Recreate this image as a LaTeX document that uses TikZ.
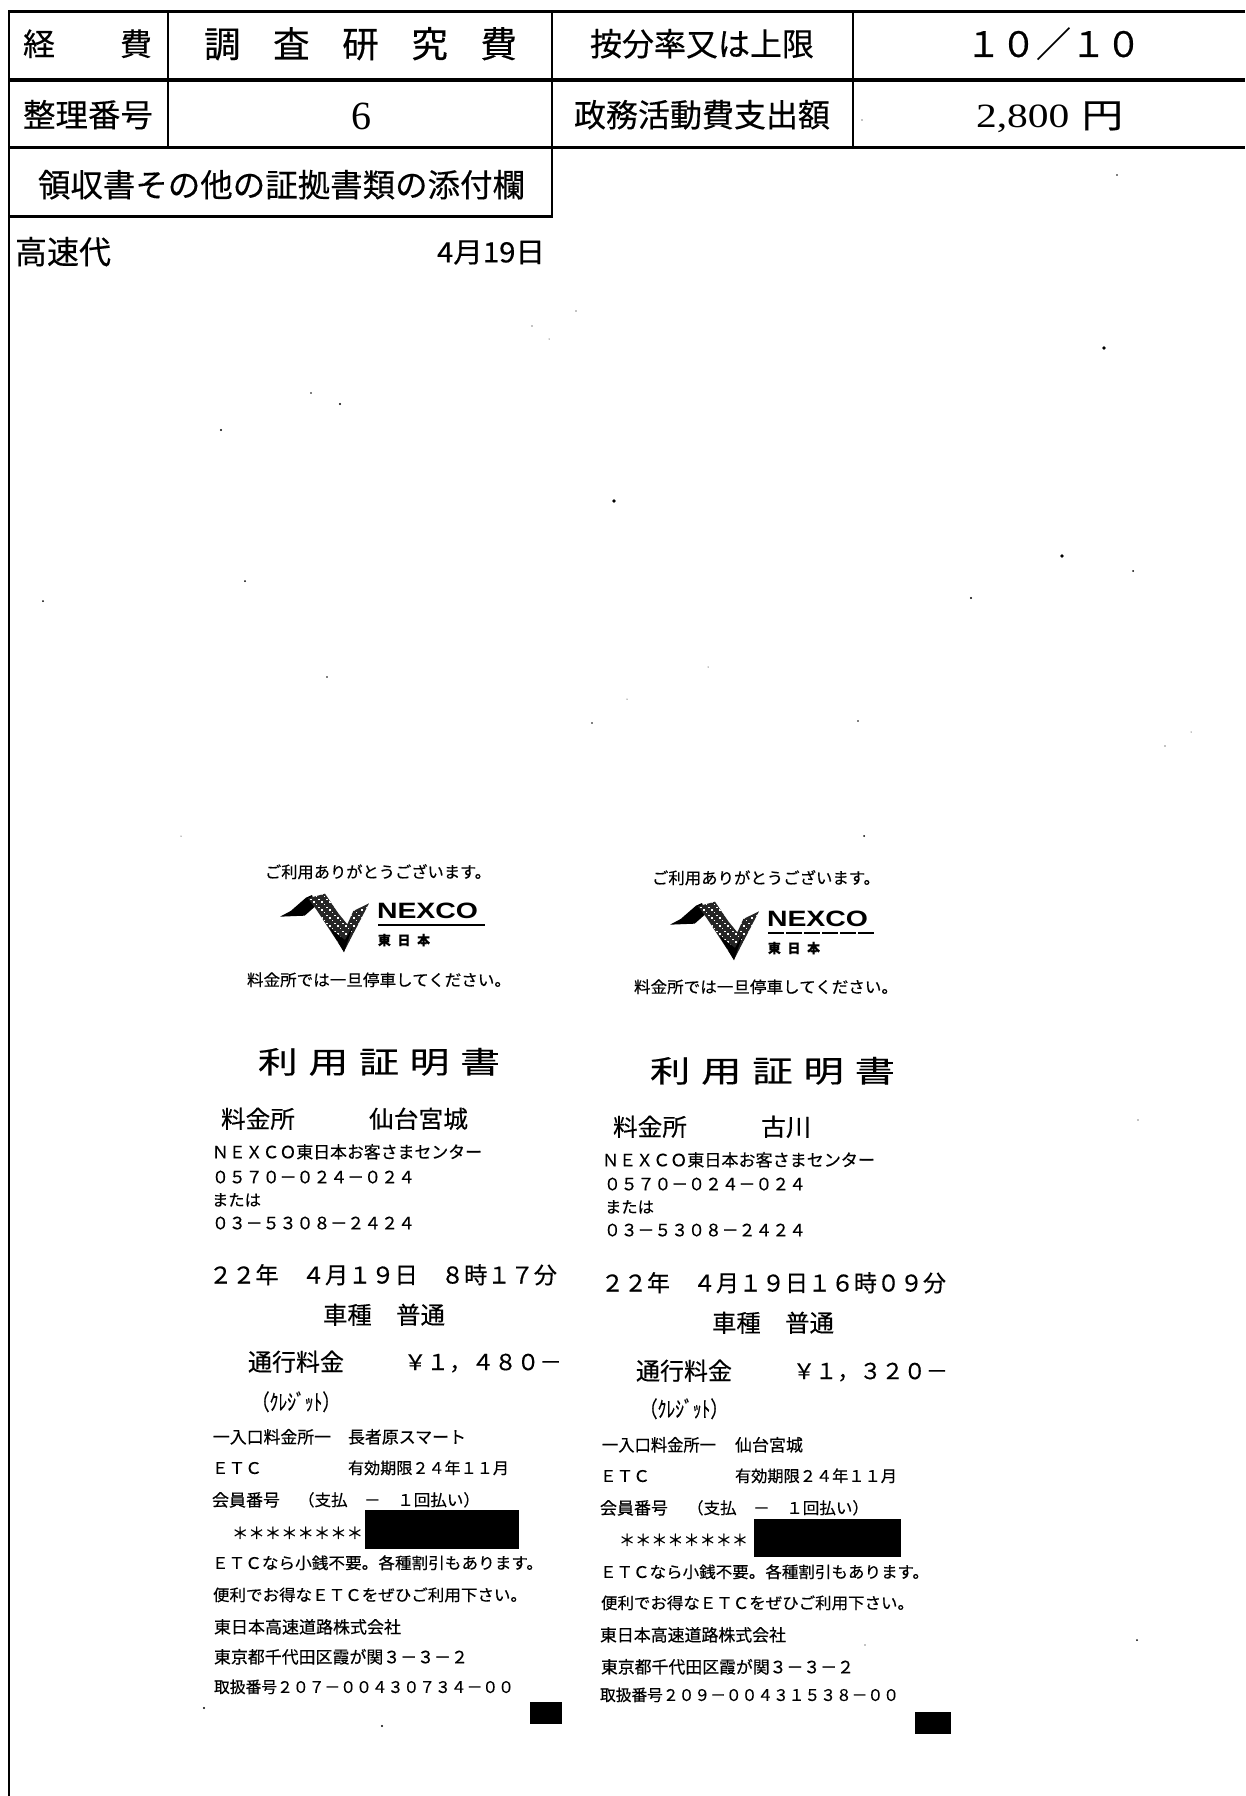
\documentclass[tikz,border=0pt]{standalone}
\usepackage{graphicx}
\usepackage{fontspec}
\setmainfont{Noto Sans CJK JP}[FakeBold=0.35]
\newfontfamily\latinserif{Liberation Serif}
\newfontfamily\latinbold{Liberation Sans}
\usetikzlibrary{calc}
\tikzset{
  rule/.style={line width=#1,black,line cap=butt},
  txt/.style={anchor=base west,inner sep=0pt,outer sep=0pt,text=black},
  speck/.style={fill=black,draw=none},
  redact/.style={fill=black,draw=none}
}
\newcommand{\tx}[6]{%
  \node[txt] (#1) at ({#2},{#3+0.37*#5}) {\resizebox{#4pt}{\height}{\fontsize{#5pt}{#5pt}\selectfont #6}};}
\newcommand{\nexcologo}[4]{% name, dx, dy, underline style
  \begin{scope}[shift={(#2,#3)}]
    \begin{scope}[shift={(270,885)},x=0.3333pt,y=-0.3333pt]
      \fill[black] (30,95) -- (62,78) -- (108,38) -- (126,30) -- (138,62) -- (104,92) -- cycle;
      \begin{scope}
        \clip (114,40) -- (165,26) -- (205,85) -- (232,118) -- (250,78) -- (297,55) -- (222,200) -- (140,75) -- cycle;
        \fill[black!85] (100,20) rectangle (300,205);
        \foreach \px in {0,...,24}{\foreach \py in {0,...,22}{
          \pgfmathtruncatemacro{\flag}{mod(\px*7+\py*11+\px*\py*3,3)}
          \ifnum\flag=0 \fill[white] ({105+\px*8},{25+\py*8}) rectangle +(5,4); \fi }}
      \end{scope}
      \fill[black] (178,128) -- (222,202) -- (248,125) -- (225,165) -- cycle;
    \end{scope}
    \node[txt] (#1n) at (377,918) {\resizebox{101pt}{15.5pt}{\latinbold\bfseries NEXCO}};
    \draw[rule=2pt,#4] (378,924.5) -- (485,924.5);
    \node[txt] (#1j) at (378,945) {\resizebox{52pt}{\height}{\fontsize{13pt}{13pt}\selectfont\bfseries 東\hspace{7pt}日\hspace{7pt}本}};
  \end{scope}}
\begin{document}
\begin{tikzpicture}[x=1pt,y=-1pt]
\useasboundingbox (0,0) rectangle (1245,1796);
\fill[white] (0,0) rectangle (1245,1796);
% ---- table rules
\draw[rule=3pt] (9,11) -- (1245,11);
\draw[rule=3.5pt] (9,80) -- (1245,80);
\draw[rule=3pt] (9,147) -- (1245,147);
\draw[rule=3pt] (9,216) -- (553,216);
\draw[rule=2.6pt] (9,10) -- (9,1796);
\draw[rule=2pt] (168,11) -- (168,147);
\draw[rule=2pt] (552,11) -- (552,216);
\draw[rule=2pt] (853,11) -- (853,147);
% ---- table text
\tx{keihi1}{23}{44}{32}{31}{経}
\tx{keihi2}{120}{44}{32}{31}{費}
\tx{chosa}{204}{44}{313}{36}{調\hspace{32pt}査\hspace{32pt}研\hspace{32pt}究\hspace{32pt}費}
\tx{anbun}{590}{44}{224}{32}{按分率又は上限}
\tx{ratio}{966}{44}{175}{35}{１０／１０}
\tx{seiri}{23}{115}{130}{32}{整理番号}
\tx{six}{351}{115}{20}{40}{\latinserif 6}
\tx{seimu}{574}{115}{256}{32}{政務活動費支出額}
\tx{amount}{976}{115}{147}{34}{\latinserif 2,800\hspace{10pt}\normalfont 円}
\tx{ryoshu}{38}{185}{487}{32}{領収書その他の証拠書類の添付欄}
\tx{kosoku}{15}{252}{96}{32}{高速代}
\tx{date}{437}{252}{108}{28}{4月19日}
% ---- specks
\foreach \sx/\sy/\sr in {1104/348/1.8,614/501/1.8,1062/556/1.8,1133/571/1,971/598/1.2,221/430/1.2,340/404/1.2,311/393/.8,43/601/1,245/581/1,327/677/.8,592/723/.8,858/721/.8,864/836/1,576/311/.7,532/326/.7,549/339/.5,708/667/.5,627/699/.5,1165/746/.6,1191/732/.5,181/836/.5,1117/175/.9,865/1645/.6,204/1708/1.2,382/1726/1.2,1137/1640/1,1138/1120/.6,862/120/.6}
  {\fill[speck] (\sx,\sy) circle (\sr pt);}
% ---- left receipt
\tx{la}{265}{872}{226}{16}{ご利用ありがとうございます。}
\nexcologo{ll}{0}{0}{}
\tx{lb}{247}{980}{264}{16}{料金所では一旦停車してください。}
\tx{lc}{258}{1062}{242}{30}{利\hspace{8pt}用\hspace{8pt}証\hspace{8pt}明\hspace{8pt}書}
\tx{ld}{221}{1119}{74}{24}{料金所}
\tx{le}{369}{1119}{99}{24}{仙台宮城}
\tx{lf}{212}{1152}{270}{17}{ＮＥＸＣＯ東日本お客さまセンター}
\tx{lg}{212}{1177}{203}{17}{０５７０－０２４－０２４}
\tx{lh}{212}{1200}{49}{16}{または}
\tx{li}{212}{1223}{203}{17}{０３－５３０８－２４２４}
\tx{lj}{209}{1275}{348}{23}{２２年　４月１９日　８時１７分}
\tx{lk}{323}{1315}{122}{24}{車種　普通}
\tx{lm}{248}{1362}{96}{24}{通行料金}
\tx{ln}{404}{1362}{158}{22}{￥１，４８０－}
\tx{lo}{252}{1402}{88}{22}{（ｸﾚｼﾞｯﾄ）}
\tx{lp}{213}{1437}{118}{17}{一入口料金所一}
\tx{lq}{348}{1437}{118}{17}{長者原スマート}
\tx{lr}{212}{1468}{50}{16}{ＥＴＣ}
\tx{ls}{348}{1468}{161}{16}{有効期限２４年１１月}
\tx{lt}{212}{1500}{68}{17}{会員番号}
\tx{lu}{298}{1500}{182}{16}{（支払　－　１回払い）}
\tx{lv}{232}{1533}{131}{16}{＊＊＊＊＊＊＊＊}
\fill[redact] (365,1510) rectangle (519,1549);
\tx{lw}{212}{1563}{331}{16}{ＥＴＣなら小銭不要。各種割引もあります。}
\tx{lx}{213}{1595}{314}{16}{便利でお得なＥＴＣをぜひご利用下さい。}
\tx{ly}{214}{1627}{187}{17}{東日本高速道路株式会社}
\tx{lz}{214}{1657}{254}{17}{東京都千代田区霞が関３－３－２}
\tx{laa}{214}{1687}{300}{16}{取扱番号２０７－００４３０７３４－００}
\fill[redact] (530,1702) rectangle (562,1724);
% ---- right receipt
\tx{ra}{652}{878}{228}{16}{ご利用ありがとうございます。}
\nexcologo{rl}{390}{8}{dash pattern=on 16pt off 2pt}
\tx{rb}{634}{987}{264}{16}{料金所では一旦停車してください。}
\tx{rc}{650}{1071}{245}{30}{利\hspace{8pt}用\hspace{8pt}証\hspace{8pt}明\hspace{8pt}書}
\tx{rd}{613}{1127}{74}{24}{料金所}
\tx{re}{761}{1127}{50}{24}{古川}
\tx{rf}{602}{1160}{273}{17}{ＮＥＸＣＯ東日本お客さまセンター}
\tx{rg}{604}{1184}{202}{17}{０５７０－０２４－０２４}
\tx{rh}{605}{1207}{49}{16}{または}
\tx{ri}{604}{1230}{202}{17}{０３－５３０８－２４２４}
\tx{rj}{601}{1283}{345}{23}{２２年　４月１９日１６時０９分}
\tx{rk}{712}{1323}{122}{24}{車種　普通}
\tx{rm}{636}{1371}{96}{24}{通行料金}
\tx{rn}{793}{1371}{155}{22}{￥１，３２０－}
\tx{ro}{640}{1409}{88}{22}{（ｸﾚｼﾞｯﾄ）}
\tx{rp}{602}{1445}{114}{17}{一入口料金所一}
\tx{rq}{735}{1445}{68}{17}{仙台宮城}
\tx{rr}{600}{1476}{50}{16}{ＥＴＣ}
\tx{rs}{735}{1476}{162}{16}{有効期限２４年１１月}
\tx{rt}{600}{1508}{68}{17}{会員番号}
\tx{ru}{687}{1508}{182}{16}{（支払　－　１回払い）}
\tx{rv}{619}{1540}{129}{16}{＊＊＊＊＊＊＊＊}
\fill[redact] (754,1519) rectangle (901,1557);
\tx{rw}{600}{1572}{329}{16}{ＥＴＣなら小銭不要。各種割引もあります。}
\tx{rx}{601}{1603}{313}{16}{便利でお得なＥＴＣをぜひご利用下さい。}
\tx{ry}{600}{1635}{186}{17}{東日本高速道路株式会社}
\tx{rz}{601}{1667}{253}{17}{東京都千代田区霞が関３－３－２}
\tx{raa}{600}{1695}{299}{16}{取扱番号２０９－００４３１５３８－００}
\fill[redact] (915,1712) rectangle (951,1734);
\end{tikzpicture}
\end{document}
